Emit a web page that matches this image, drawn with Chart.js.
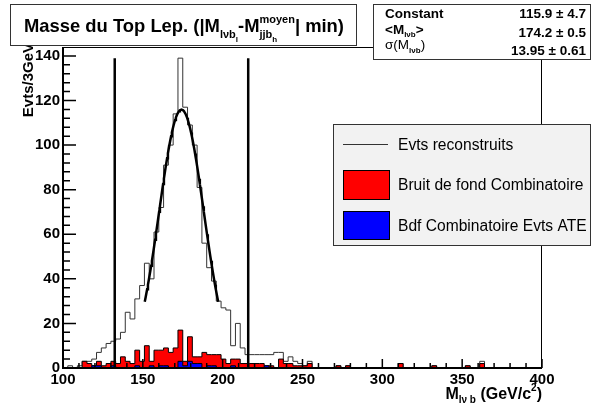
<!DOCTYPE html>
<html>
<head>
<meta charset="utf-8">
<script src="https://cdn.jsdelivr.net/npm/chart.js@4.4.0/dist/chart.umd.min.js"></script>
<style>
  html, body { margin: 0; padding: 0; background: #fff; }
  canvas { display: block; }
</style>
</head>
<body>
<canvas id="c" width="592" height="409"></canvas>
<script>
// M(l nu b) histogram, 100 bins of 3 GeV from 100 to 400
const xMin = 100, xMax = 400, binWidth = 3;

const recoCounts = [
  0, 1, 0, 1, 3, 3, 4, 7, 9, 11,
  12, 13, 16, 25, 22, 31, 37, 47, 40, 61,
  72, 91, 100, 114, 139, 117, 109, 100, 81, 56,
  45, 39, 30, 27, 26, 10, 20, 9, 6, 6,
  6, 6, 6, 6, 7, 7, 3, 5, 3, 2,
  1, 3, 0, 0, 0, 0, 0, 1, 0, 1,
  0, 0, 0, 0, 0, 0, 0, 0, 0, 0,
  2, 0, 0, 0, 0, 0, 0, 1, 0, 0,
  0, 0, 0, 0, 1, 0, 0, 3, 0, 0,
  0, 0, 0, 0, 0, 0, 0, 0, 0, 0
];
const combCounts = [
  0, 0, 0, 0, 3, 2, 1, 3, 1, 2,
  3, 2, 5, 3, 2, 8, 3, 10, 3, 8,
  8, 9, 7, 9, 17, 3, 14, 5, 5, 7,
  6, 6, 6, 4, 2, 4, 4, 2, 2, 2,
  2, 2, 1, 1, 0, 4, 2, 2, 1, 1,
  1, 2, 0, 0, 0, 0, 0, 1, 0, 1,
  0, 0, 0, 0, 0, 0, 0, 0, 0, 0,
  2, 0, 0, 0, 0, 0, 0, 1, 0, 0,
  0, 0, 0, 0, 1, 0, 0, 2, 0, 0,
  0, 0, 0, 0, 0, 0, 0, 0, 0, 0
];
const ateCounts = [
  0, 0, 0, 0, 0, 0, 1, 1, 0, 0,
  1, 0, 0, 0, 0, 1, 0, 0, 1, 0,
  1, 1, 0, 0, 3, 1, 3, 2, 2, 0,
  1, 1, 0, 0, 0, 1, 0, 0, 0, 0,
  0, 0, 1, 0, 0, 0, 0, 0, 0, 0,
  0, 0, 0, 0, 0, 0, 0, 0, 0, 0,
  0, 0, 0, 0, 0, 0, 0, 0, 0, 0,
  0, 0, 0, 0, 0, 0, 0, 0, 0, 0,
  0, 0, 0, 0, 0, 0, 0, 0, 0, 0,
  0, 0, 0, 0, 0, 0, 0, 0, 0, 0
];

// gaussian fit result and its drawing range
const fitConstant = 115.9, fitMean = 174.2, fitSigma = 13.95;
const fitFrom = 151.2, fitTo = 197.3;
// mass window markers
const windowEdges = [132.4, 216.0];
const windowTop = 139;

const xTicks = [100, 150, 200, 250, 300, 350, 400];
const yTicks = [0, 20, 40, 60, 80, 100, 120, 140];

const FONT = '"Liberation Sans", Arial, Helvetica, sans-serif';

function histPoints(vals) {
  const pts = vals.map((v, i) => ({ x: xMin + i * binWidth, y: v }));
  pts.push({ x: xMin + vals.length * binWidth, y: 0 });
  return pts;
}

const fitPoints = [];
for (let x = fitFrom; x <= fitTo + 1e-9; x += 0.5) {
  const u = (x - fitMean) / fitSigma;
  fitPoints.push({ x: x, y: fitConstant * Math.exp(-0.5 * u * u) });
}

function fontOf(s) {
  return (s.bold === false ? '' : 'bold ') + s.size + 'px ' + FONT;
}

// text with sub/superscripts; a seg with sup:true does not move the pen,
// a seg with clear:true starts after the widest of the stacked pieces
function richText(ctx, segs, x, y, align) {
  let cx = 0, hold = 0;
  const items = segs.map(s => {
    ctx.font = fontOf(s);
    const w = ctx.measureText(s.t).width;
    if (s.clear) cx = Math.max(cx, hold);
    const at = cx;
    if (s.sup) hold = cx + w; else cx += w;
    return { s, at };
  });
  const total = Math.max(cx, hold);
  const x0 = align === 'right' ? x - total : align === 'center' ? x - total / 2 : x;
  ctx.textBaseline = 'alphabetic';
  ctx.textAlign = 'left';
  items.forEach(it => {
    ctx.font = fontOf(it.s);
    ctx.fillText(it.s.t, x0 + it.at, y + (it.s.dy || 0));
  });
}

const decorations = {
  id: 'decorations',
  afterDatasetsDraw(chart) {
    const { ctx, chartArea: a, scales: { x, y } } = chart;
    ctx.save();
    ctx.strokeStyle = '#000';
    ctx.lineWidth = 1;
    ctx.strokeRect(a.left, a.top + 0.5, a.right - a.left - 0.5, a.bottom - a.top);
    ctx.lineWidth = 2;
    ctx.beginPath();
    ctx.moveTo(a.left, a.top);
    ctx.lineTo(a.left, a.bottom);
    ctx.lineTo(a.right, a.bottom);
    ctx.stroke();
    ctx.lineWidth = 1.5;
    ctx.beginPath();
    for (let v = xMin; v <= xMax; v += 10) {
      const px = x.getPixelForValue(v);
      const len = v % 50 === 0 ? 9 : 5;
      ctx.moveTo(px, a.bottom);
      ctx.lineTo(px, a.bottom - len);
    }
    for (let v = 0; v <= 140; v += 4) {
      const py = y.getPixelForValue(v);
      const len = v % 20 === 0 ? 13 : 7;
      ctx.moveTo(a.left, py);
      ctx.lineTo(a.left + len, py);
    }
    ctx.stroke();
    ctx.restore();
  },
  afterDraw(chart) {
    const { ctx, chartArea: a } = chart;
    ctx.save();
    ctx.fillStyle = '#000';

    // y axis title
    ctx.save();
    ctx.translate(33, a.top - 4);
    ctx.rotate(-Math.PI / 2);
    richText(ctx, [{ t: 'Evts/3GeV', size: 15 }], 0, 0, 'right');
    ctx.restore();

    // x axis title
    richText(ctx, [
      { t: 'M', size: 16 },
      { t: 'l\u03bd b', size: 10, dy: 4 },
      { t: ' (GeV/c', size: 16 },
      { t: '2', size: 10, dy: -8 },
      { t: ')', size: 16 }
    ], a.right, 399, 'right');

    // title box
    ctx.fillStyle = '#fff';
    ctx.fillRect(10, 4, 346, 41);
    ctx.strokeStyle = '#333';
    ctx.lineWidth = 1;
    ctx.strokeRect(10.5, 4.5, 346, 41);
    ctx.fillStyle = '#000';
    richText(ctx, [
      { t: 'Masse du Top Lep. (|M', size: 18.4 },
      { t: 'l\u03bdb', size: 11, dy: 6 },
      { t: 'l', size: 8, dy: 10 },
      { t: '-M', size: 18.4 },
      { t: 'moyen', size: 11, dy: -9, sup: true },
      { t: 'jjb', size: 11, dy: 6 },
      { t: 'h', size: 8, dy: 10 },
      { t: '| min)', size: 18.4, clear: true }
    ], 184, 32, 'center');

    // fit statistics box
    ctx.fillStyle = '#fff';
    ctx.fillRect(373, 4, 217, 55);
    ctx.strokeStyle = '#333';
    ctx.strokeRect(373.5, 4.5, 217, 55);
    ctx.fillStyle = '#000';
    richText(ctx, [{ t: 'Constant', size: 13.5 }], 385, 18, 'left');
    richText(ctx, [{ t: '<M', size: 13.5 }, { t: 'l\u03bdb', size: 8, dy: 3 }, { t: '>', size: 13.5 }], 385, 34, 'left');
    richText(ctx, [{ t: '\u03c3(M', size: 13.5, bold: false }, { t: 'l\u03bdb', size: 8, dy: 4 }, { t: ')', size: 13.5, bold: false }], 385, 49, 'left');
    richText(ctx, [{ t: '115.9 \u00b1 4.7', size: 13.5 }], 586, 18, 'right');
    richText(ctx, [{ t: '174.2 \u00b1 0.5', size: 13.5 }], 586, 37, 'right');
    richText(ctx, [{ t: '13.95 \u00b1 0.61', size: 13.5 }], 586, 55, 'right');

    // legend
    ctx.fillStyle = '#f2f2f2';
    ctx.fillRect(333, 124, 257, 121);
    ctx.strokeStyle = '#333';
    ctx.strokeRect(333.5, 124.5, 257, 121);
    ctx.lineWidth = 1;
    ctx.beginPath();
    ctx.moveTo(343, 144.5);
    ctx.lineTo(388, 144.5);
    ctx.stroke();
    ctx.fillStyle = '#ff0000';
    ctx.fillRect(343, 170, 46, 29);
    ctx.strokeStyle = '#000';
    ctx.strokeRect(343.5, 170.5, 46, 29);
    ctx.fillStyle = '#0000ff';
    ctx.fillRect(343, 211, 46, 28);
    ctx.strokeRect(343.5, 211.5, 46, 28);
    ctx.fillStyle = '#000';
    const leg = (t, yy) => richText(ctx, [{ t: t, size: 15.6, bold: false }], 398, yy, 'left');
    leg('Evts reconstruits', 150);
    leg('Bruit de fond Combinatoire', 190);
    leg('Bdf Combinatoire Evts ATE', 231);
    ctx.restore();
  }
};

new Chart(document.getElementById('c'), {
  type: 'line',
  data: {
    datasets: [
      {
        label: 'window low',
        data: [{ x: windowEdges[0], y: 0 }, { x: windowEdges[0], y: windowTop }],
        borderColor: '#000', borderWidth: 2.5, pointRadius: 0, order: 0
      },
      {
        label: 'window high',
        data: [{ x: windowEdges[1], y: 0 }, { x: windowEdges[1], y: windowTop }],
        borderColor: '#000', borderWidth: 2.5, pointRadius: 0, order: 0
      },
      {
        label: 'fit',
        data: fitPoints,
        borderColor: '#000', borderWidth: 2.5, pointRadius: 0, tension: 0, order: 1
      },
      {
        label: 'Bdf Combinatoire Evts ATE',
        data: histPoints(ateCounts),
        stepped: true, borderColor: '#000', borderWidth: 1,
        backgroundColor: '#0000ff', fill: 'origin', pointRadius: 0, order: 2
      },
      {
        label: 'Bruit de fond Combinatoire',
        data: histPoints(combCounts),
        stepped: true, borderColor: '#000', borderWidth: 1,
        backgroundColor: '#ff0000', fill: 'origin', pointRadius: 0, order: 3
      },
      {
        label: 'Evts reconstruits',
        data: histPoints(recoCounts),
        stepped: true, borderColor: '#333', borderWidth: 1,
        fill: false, pointRadius: 0, order: 4
      }
    ]
  },
  options: {
    responsive: false,
    animation: false,
    layout: { padding: { left: 0, right: 50, top: 47, bottom: 0 } },
    plugins: { legend: { display: false }, tooltip: { enabled: false } },
    scales: {
      x: {
        type: 'linear', min: xMin, max: xMax,
        grid: { display: false, drawTicks: false },
        border: { display: false },
        afterBuildTicks: s => { s.ticks = xTicks.map(v => ({ value: v })); },
        ticks: { color: '#000', padding: 3, maxRotation: 0, font: { family: FONT, size: 15, weight: 'bold' } },
        afterFit: s => { s.height = 41; }
      },
      y: {
        type: 'linear', min: 0, max: 144,
        grid: { display: false, drawTicks: false },
        border: { display: false },
        afterBuildTicks: s => { s.ticks = yTicks.map(v => ({ value: v })); },
        ticks: { color: '#000', padding: 3, font: { family: FONT, size: 15, weight: 'bold' } },
        afterFit: s => { s.width = 63; }
      }
    }
  },
  plugins: [decorations]
});
</script>
</body>
</html>
